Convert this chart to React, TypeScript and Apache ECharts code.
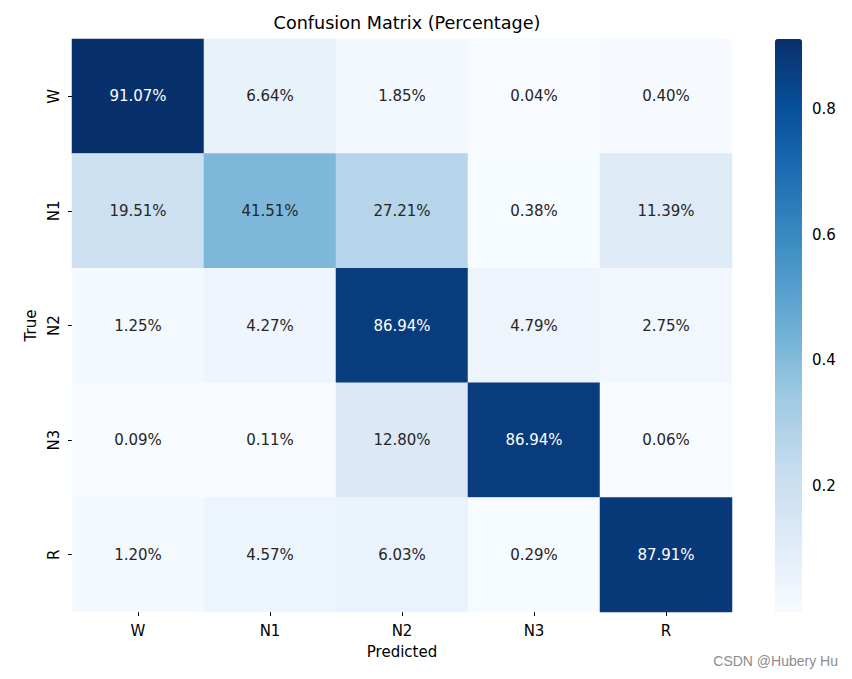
import React, { useEffect, useRef } from "react";
import * as echarts from "echarts";

const predicted = ["W", "N1", "N2", "N3", "R"];
const trueLabels = ["W", "N1", "N2", "N3", "R"];
const rowW = [91.07, 6.64, 1.85, 0.04, 0.4];
const rowN1 = [19.51, 41.51, 27.21, 0.38, 11.39];
const rowN2 = [1.25, 4.27, 86.94, 4.79, 2.75];
const rowN3 = [0.09, 0.11, 12.8, 86.94, 0.06];
const rowR = [1.2, 4.57, 6.03, 0.29, 87.91];
const matrix = [rowW, rowN1, rowN2, rowN3, rowR];
const colorbarTicks = [0.2, 0.4, 0.6, 0.8];
const blues = ["#f7fbff", "#deebf7", "#c6dbef", "#9ecae1", "#6baed6", "#4292c6", "#2171b5", "#08519c", "#08306b"];

const FONT = "DejaVu Sans";

export default function App() {
  const ref = useRef<HTMLDivElement>(null);
  useEffect(() => {
    if (!ref.current) return;
    const chart = echarts.init(ref.current, undefined, { renderer: "svg" });
    const flat = matrix.flat().map((v) => v / 100);
    const vmin = Math.min(...flat);
    const vmax = Math.max(...flat);
    const data: any[] = [];
    matrix.forEach((row, yi) => {
      row.forEach((v, xi) => {
        const f = v / 100;
        data.push({
          value: [xi, yi, f],
          label: { color: f > 0.5 ? "#ffffff" : "#262626" },
        });
      });
    });
    chart.setOption({
      animation: false,
      backgroundColor: "#ffffff",
      textStyle: { fontFamily: FONT },
      title: {
        text: "Confusion Matrix (Percentage)",
        left: 402,
        textAlign: "center",
        top: 9,
        textStyle: { fontFamily: FONT, fontSize: 17.6, fontWeight: "normal", color: "#000" },
      },
      grid: [
        { left: 72, top: 39, width: 660, height: 573 },
        { left: 775, top: 39, width: 27, height: 573 },
      ],
      xAxis: [
        {
          type: "category",
          gridIndex: 0,
          data: predicted,
          name: "Predicted",
          nameLocation: "middle",
          nameGap: 32,
          nameTextStyle: { fontFamily: FONT, fontSize: 15, color: "#000" },
          axisLine: { show: false },
          axisTick: { show: true, alignWithLabel: true, length: 4, lineStyle: { color: "#000" } },
          axisLabel: { fontFamily: FONT, fontSize: 15, color: "#000", margin: 11 },
          splitLine: { show: false },
        },
        { type: "value", gridIndex: 1, show: false, min: 0, max: 1 },
      ],
      yAxis: [
        {
          type: "category",
          gridIndex: 0,
          data: trueLabels,
          inverse: true,
          name: "True",
          nameLocation: "middle",
          nameGap: 32,
          nameRotate: 90,
          nameTextStyle: { fontFamily: FONT, fontSize: 15, color: "#000" },
          axisLine: { show: false },
          axisTick: { show: true, alignWithLabel: true, length: 4, lineStyle: { color: "#000" } },
          axisLabel: { fontFamily: FONT, fontSize: 15, color: "#000", rotate: 90, margin: 11 },
          splitLine: { show: false },
        },
        {
          type: "value",
          gridIndex: 1,
          position: "right",
          min: vmin,
          max: vmax,
          axisLine: { show: false },
          splitLine: { show: false },
          axisTick: {
            show: true,
            length: 4,
            customValues: colorbarTicks,
            lineStyle: { color: "#000" },
          },
          axisLabel: {
            fontFamily: FONT,
            fontSize: 15,
            color: "#000",
            margin: 10,
            customValues: colorbarTicks,
            formatter: (v: number) => v.toFixed(1),
          },
        },
      ],
      visualMap: {
        type: "continuous",
        min: vmin,
        max: vmax,
        seriesIndex: 0,
        calculable: false,
        orient: "vertical",
        left: 775,
        top: 39,
        padding: 0,
        itemWidth: 27,
        itemHeight: 573,
        text: ["", ""],
        showLabel: false,
        inRange: { color: blues },
      },
      series: [
        {
          type: "heatmap",
          xAxisIndex: 0,
          yAxisIndex: 0,
          data,
          label: {
            show: true,
            fontFamily: FONT,
            fontSize: 15,
            formatter: (p: any) => (p.value[2] * 100).toFixed(2) + "%",
          },
          itemStyle: { borderWidth: 0 },
          emphasis: { disabled: true },
        },
        {
          type: "line",
          xAxisIndex: 1,
          yAxisIndex: 1,
          data: [],
        },
      ],
      graphic: [
        {
          type: "text",
          right: 14,
          top: 654,
          style: { text: "CSDN @Hubery Hu", fontFamily: "Liberation Sans", fontSize: 14, fill: "#8c8c8c" },
        },
      ],
    });
    return () => chart.dispose();
  }, []);
  return <div ref={ref} style={{ position: "fixed", left: 0, top: 0, width: 852, height: 679 }} />;
}
